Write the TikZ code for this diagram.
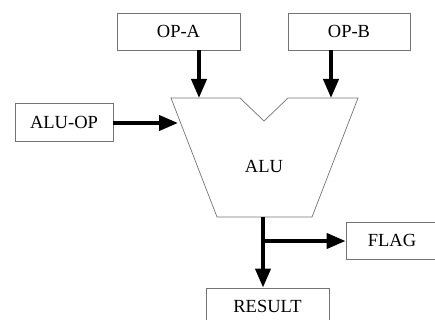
\documentclass[tikz,border=0pt]{standalone}
\usepackage{fontspec}
\setmainfont{Liberation Serif}
\usetikzlibrary{arrows.meta}
\begin{document}
\begin{tikzpicture}[x=1pt,y=-1pt,
  box/.style={draw=black!55,line width=0.8pt,rectangle,inner sep=0pt,font=\fontsize{18.5}{21}\selectfont},
  flow/.style={line width=4pt,-{Triangle[length=19pt,width=15pt]}},
  outline/.style={draw=black!55,line width=0.7pt}]
\useasboundingbox (0,0) rectangle (435,320);
\node[box,minimum width=123pt,minimum height=37pt] (opa) at (178.5,31.5) {OP-A};
\node[box,minimum width=122pt,minimum height=37pt] (opb) at (349,31.5) {OP-B};
\node[box,minimum width=98pt,minimum height=38pt] (aluop) at (64,122) {ALU-OP};
\node[box,minimum width=92pt,minimum height=37pt] (flag) at (392,240.5) {FLAG};
\node[box,minimum width=123pt,minimum height=37pt] (result) at (267.5,306.5) {RESULT};
% ALU trapezoid
\coordinate (tl) at (171,98);
\coordinate (n1) at (240,98);
\coordinate (nb) at (264,121);
\coordinate (n2) at (288,98);
\coordinate (tr) at (358,98);
\coordinate (brc) at (312,217);
\coordinate (blc) at (217,217);
\draw[outline] (tl) -- (n1) -- (nb) -- (n2) -- (tr) -- (brc) -- (blc) -- cycle;
\node[font=\fontsize{18.5}{21}\selectfont] (alu) at (264,166) {ALU};
% inputs
\coordinate (ina) at (199,98);
\coordinate (inb) at (331,98);
\coordinate (inop) at (178,123);
\draw[flow] (opa.south -| ina) -- (ina);
\draw[flow] (opb.south -| inb) -- (inb);
\draw[flow] (aluop.east |- inop) -- (inop);
% outputs
\coordinate (out) at (263,217);
\coordinate (br) at (263,241);
\draw[flow] (out) -- (result.north -| out);
\draw[flow] ([xshift=-2pt]br) -- (flag.west |- br);
\end{tikzpicture}
\end{document}
